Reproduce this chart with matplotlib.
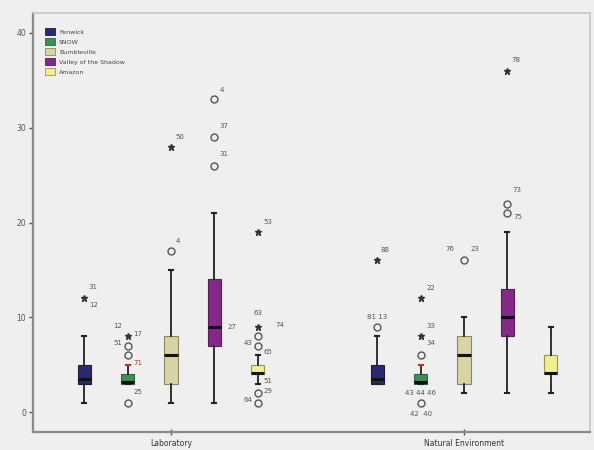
import matplotlib
matplotlib.use("Agg")
import matplotlib.pyplot as plt
from matplotlib.patches import Patch

groups = ["Laboratory", "Natural Environment"]
series = ["Fenwick", "SNOW", "Bumbleville", "Valley of the Shadow", "Amazon"]
colors = ["#2b2a70", "#3e8f55", "#d8d3a4", "#832a86", "#f2ee8e"]
edge_colors = ["#1c1b4a", "#2a6a3c", "#8c875e", "#5a1a5c", "#9a9650"]

# per series: [Laboratory, Natural Environment]
whislo = [[1, 3], [3, 3], [1, 2], [1, 2], [3, 2]]
q1 = [[3, 3], [3, 3], [3, 3], [7, 8], [4, 4]]
med = [[3.5, 3.5], [3.2, 3.2], [6, 6], [9, 10], [4.1, 4.1]]
q3 = [[5, 5], [4, 4], [8, 8], [14, 13], [5, 6]]
whishi = [[8, 8], [5, 5], [15, 10], [21, 19], [6, 9]]

# outliers: (group index, series index, value, marker)
out_group = [0, 0, 0, 0, 0, 0, 0, 0, 0, 0, 0, 0, 0, 0, 0, 0, 0,
             1, 1, 1, 1, 1, 1, 1, 1, 1, 1, 1]
out_series = [0, 1, 1, 1, 1, 2, 2, 3, 3, 3, 4, 4, 4, 4, 4, 4, 3,
              0, 0, 1, 1, 1, 1, 2, 3, 3, 3, 0]
out_value = [12, 8, 7, 6, 1, 17, 28, 26, 29, 33, 19, 9, 8, 7, 2, 1, 9,
             16, 9, 12, 8, 6, 1, 16, 21, 22, 36, 9]
out_marker = ["*", "*", "o", "o", "o", "o", "*", "o", "o", "o", "*", "*", "o", "o", "o", "o", None,
              "*", "o", "*", "*", "o", "o", "o", "o", "o", "*", None]
# case labels for the points above: list of (text, dx px, dy px)
out_labels = [
    [("31", 9, 11), ("12", 9, -7)],
    [("12", -10, 10), ("17", 10, 2)],
    [("51", -10, 3)],
    [],
    [("25", 10, 11)],
    [("4", 7, 10)],
    [("50", 9, 10)],
    [("31", 10, 12)],
    [("37", 10, 11)],
    [("4", 8, 9)],
    [("53", 10, 10)],
    [("63", 0, 14), ("74", 22, 2)],
    [],
    [("43", -10, 3), ("65", 10, -6)],
    [("29", 10, 2), ("51", 10, 12)],
    [("64", -10, 3)],
    [("27", 18, 0)],
    [("88", 8, 10)],
    [("81 13", 0, 10)],
    [("22", 10, 10)],
    [("33", 10, 10), ("34", 10, -7)],
    [],
    [("43 44 46", 0, 10), ("42  40", 0, -11)],
    [("76", -14, 11), ("23", 11, 11)],
    [("75", 10, -4)],
    [("73", 10, 14)],
    [("78", 9, 11)],
    [],
]

fig = plt.figure(figsize=(5.94, 4.5), dpi=100, facecolor="#efefef")
ax = fig.add_axes([33 / 594, 18 / 450, 557 / 594, 419 / 450])
ax.set_facecolor("#efefef")

offsets = [-0.296, -0.148, 0.0, 0.148, 0.296]
width = 0.045

for si in range(len(series)):
    stats = []
    pos = []
    for gi in range(len(groups)):
        stats.append(dict(whislo=whislo[si][gi], q1=q1[si][gi], med=med[si][gi],
                          q3=q3[si][gi], whishi=whishi[si][gi], fliers=[]))
        pos.append(gi + offsets[si])
    bp = ax.bxp(stats, positions=pos, widths=width, patch_artist=True,
                showfliers=False, capwidths=0.014,
                boxprops=dict(facecolor=colors[si], edgecolor=edge_colors[si], linewidth=0.8),
                medianprops=dict(color="#111111", linewidth=2.2),
                whiskerprops=dict(color="#222222", linewidth=1.3),
                capprops=dict(color="#222222", linewidth=1.5))
    if si == 1:
        for k, cap in enumerate(bp["caps"]):
            if k % 2 == 1:
                cap.set_color("#c03030")

for i in range(len(out_value)):
    x = out_group[i] + offsets[out_series[i]]
    y = out_value[i]
    m = out_marker[i]
    if m == "o":
        ax.plot(x, y, marker="o", ms=5, mfc="none", mec="#555555", mew=1.0, ls="none")
    elif m == "*":
        ax.plot(x, y, marker="*", ms=5, mfc="#333333", mec="#333333", ls="none")
    for txt, dx, dy in out_labels[i]:
        ax.annotate(txt, (x, y), xytext=(dx, dy), textcoords="offset pixels",
                    ha="center", va="center", fontsize=5, color="#555555")

# red case label on SNOW upper whisker
ax.annotate("71", (0 + offsets[1], whishi[1][0]), xytext=(10, 2), textcoords="offset pixels",
            ha="center", va="center", fontsize=5, color="#c03030")

ax.set_xlim(-0.471, 1.43)
ax.set_ylim(-2.1, 42.1)
ax.set_xticks([0, 1])
ax.set_xticklabels(groups, fontsize=5.5, color="#333333")
ax.set_yticks([0, 10, 20, 30, 40])
ax.set_yticklabels(["0", "10", "20", "30", "40"], fontsize=5.5, color="#555555")
ax.tick_params(axis="y", direction="out", length=3, width=1, color="#555555", pad=2)
ax.tick_params(axis="x", direction="inout", length=4, width=1, color="#555555", pad=3)

for side in ["left", "bottom"]:
    ax.spines[side].set_color("#8a8a8a")
    ax.spines[side].set_linewidth(1.6)
for side in ["top", "right"]:
    ax.spines[side].set_color("#c8c8c8")
    ax.spines[side].set_linewidth(1.2)

handles = [Patch(facecolor=colors[i], edgecolor=edge_colors[i], linewidth=0.6) for i in range(len(series))]
ax.legend(handles, series, loc="upper left", bbox_to_anchor=(0.014, 0.975), frameon=False,
          fontsize=4.5, handlelength=1.6, handleheight=1.4, labelspacing=0.45,
          handletextpad=0.6, borderpad=0.2, labelcolor="#444444")

fig.savefig("out.png", dpi=100, facecolor=fig.get_facecolor())
